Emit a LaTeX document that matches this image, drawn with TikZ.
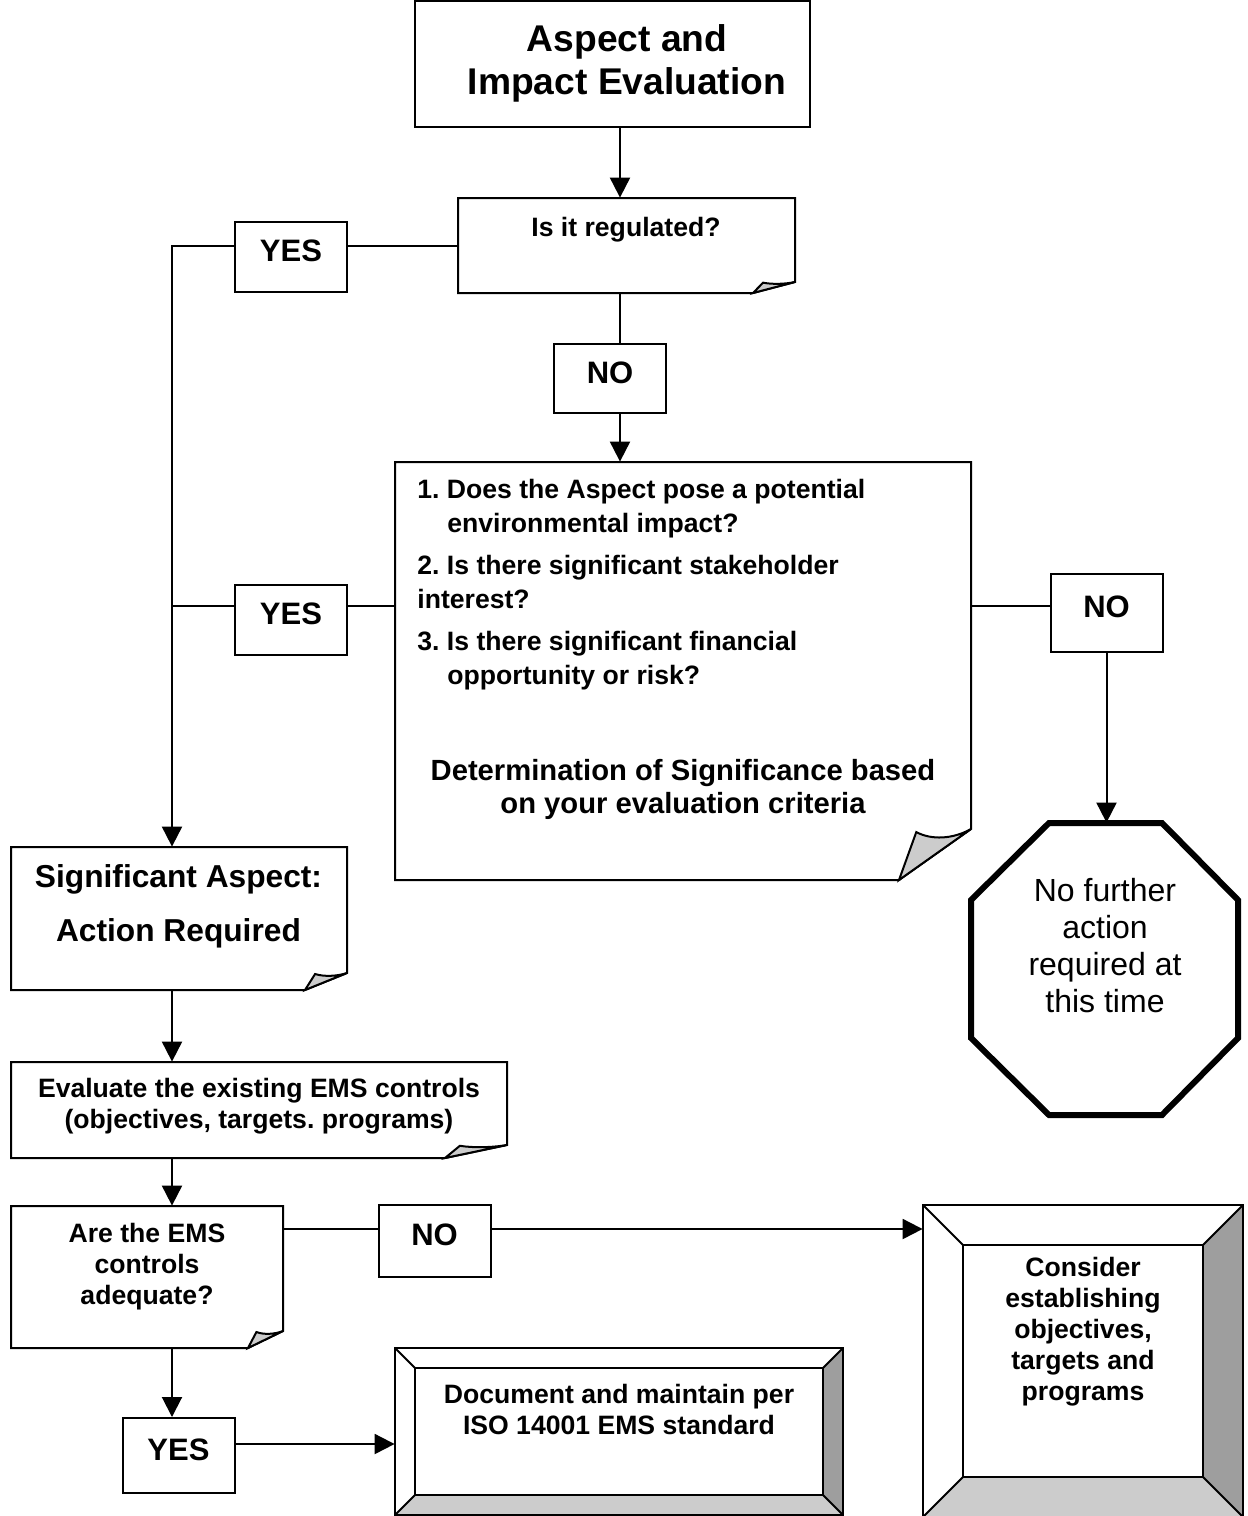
\documentclass[tikz,border=0pt]{standalone}
\usepackage{fontspec}
\setmainfont{Liberation Sans}
\usetikzlibrary{arrows.meta, calc, fit, positioning}

\definecolor{flapgray}{gray}{0.80}
\definecolor{bevellight}{gray}{0.80}
\definecolor{beveldark}{gray}{0.62}

% folded-corner page: name, x1, y1, x2, y2, fold width, fold height
\newcommand{\pagebox}[7]{%
  \draw[boxline] (#2,#3) -- (#4,#3) -- (#4,{#5-#7}) -- ({#4-#6},#5) -- (#2,#5) -- cycle;
  \filldraw[boxline, fill=flapgray] ({#4-#6},#5) -- ({#4-0.76*#6},{#5-0.94*#7})
    .. controls ({#4-0.55*#6},{#5-0.78*#7}) and ({#4-0.25*#6},{#5-0.8*#7}) .. (#4,{#5-#7}) -- cycle;
  \node[fit={(#2,#3) (#4,#5)}, inner sep=0pt] (#1) {};
}

% bevelled button: name, x1, y1, x2, y2, bevel
\newcommand{\bevelbox}[6]{%
  \fill[beveldark] (#4,#3) -- (#4,#5) -- ({#4-#6},{#5-#6}) -- ({#4-#6},{#3+#6}) -- cycle;
  \fill[bevellight] (#2,#5) -- (#4,#5) -- ({#4-#6},{#5-#6}) -- ({#2+#6},{#5-#6}) -- cycle;
  \draw[boxline] (#2,#3) rectangle (#4,#5);
  \draw[boxline] ({#2+#6},{#3+#6}) rectangle ({#4-#6},{#5-#6});
  \draw[boxline] (#2,#3) -- ({#2+#6},{#3+#6}) (#4,#3) -- ({#4-#6},{#3+#6})
    (#2,#5) -- ({#2+#6},{#5-#6}) (#4,#5) -- ({#4-#6},{#5-#6});
  \node[fit={(#2,#3) (#4,#5)}, inner sep=0pt] (#1) {};
}

\begin{document}
\frenchspacing
\begin{tikzpicture}[
    x=0.5pt, y=-0.5pt,
    every node/.style={font=\bfseries\fontsize{13.3}{15.5}\selectfont, align=center, inner sep=0pt},
    boxline/.style={line width=1pt},
    link/.style={line width=1pt},
    flow/.style={line width=1pt, -{Triangle[length=10pt, width=10pt]}},
    answer/.style={draw, line width=1pt, minimum width=56pt, minimum height=35pt, text depth=6pt,
                   font=\bfseries\fontsize{15.5}{18}\selectfont},
    stopline/.style={line width=3pt, line join=miter}
]
\useasboundingbox (0,0) rectangle (1248,1516);

\coordinate (mainx) at (620,0);
\coordinate (leftx) at (172,0);
\coordinate (critrow) at (0,606);
\coordinate (adeqrow) at (0,1229);
\coordinate (yesrow) at (0,1444);

% ===== TOP: evaluation and regulation check =====
\node[draw, line width=1pt, minimum width=197.5pt, minimum height=63pt] (title) at (612.5,64) {};
\node[font=\bfseries\fontsize{18.6}{21.5}\selectfont] (titlet) at (627,63)
    {Aspect and\\Impact Evaluation};

\pagebox{reg}{458}{198}{795}{293}{42}{11}
\node (regq) at (626,230) {Is it regulated?};

\node[answer] (yes1) at (291,257) {YES};
\node[answer, minimum height=34.5pt] (no1) at (610,378.5) {NO};

% ===== MIDDLE: significance criteria =====
\pagebox{crit}{395}{462}{971}{880}{72}{51}
\node[anchor=north west, align=left, font=\bfseries\fontsize{13.3}{17}\selectfont] (critq) at (417,479)
    {1. Does the Aspect pose a potential\\
     \hspace*{15pt}environmental impact?\\[4pt]
     2. Is there significant stakeholder\\
     interest?\\[4pt]
     3. Is there significant financial\\
     \hspace*{15pt}opportunity or risk?};
\node[font=\bfseries\fontsize{14.6}{16.5}\selectfont] (determ) at (683,789)
    {Determination of Significance based\\on your evaluation criteria};

\node[answer] (yes2) at (291,620) {YES};
\node[answer, minimum height=39pt] (no2) at (1106.5,613) {NO};

% --- stop sign ---
\draw[stopline] (1049,823) -- (1162,823) -- (1238,900) -- (1238,1038) -- (1162,1115)
    -- (1049,1115) -- (971,1038) -- (971,900) -- cycle;
\node[fit={(971,823) (1238,1115)}] (stop) {};
\node[font=\fontsize{16}{18.5}\selectfont] (stopt) at (1105,946)
    {No further\\action\\required at\\this time};

% ===== LEFT COLUMN: action path =====
\pagebox{sig}{11}{847}{347}{990}{42}{17}
\node[font=\bfseries\fontsize{15.85}{27}\selectfont] (sigt) at (178.5,906)
    {Significant Aspect:\\Action Required};

\pagebox{evalb}{11}{1062}{507}{1158}{62}{13}
\node (evalt) at (259,1106) {Evaluate the existing EMS controls\\(objectives, targets. programs)};

\pagebox{adeq}{11}{1206}{283}{1348}{35}{17}
\node (adeqt) at (147,1267) {Are the EMS\\controls\\adequate?};

\node[answer, minimum height=36pt] (no3) at (434.5,1241) {NO};
\node[answer, minimum height=37.5pt] (yes4) at (178.5,1455.5) {YES};

% ===== BOTTOM: outcomes =====
\bevelbox{docbox}{395}{1348}{843}{1515}{20}
\node (doct) at (619,1409) {Document and maintain per\\ISO 14001 EMS standard};

\bevelbox{consider}{923}{1205}{1243}{1517}{40}
\node (considert) at (1083,1332) {Consider\\establishing\\objectives,\\targets and\\programs};

% ===== CONNECTORS =====
\draw[flow] (title.south -| mainx) -- (reg.north -| mainx);
\draw[link] (reg.west) -- (yes1.east |- reg.west);
\draw[flow] (yes1.west |- reg.west) -| (sig.north -| leftx);
\draw[link] (reg.south -| mainx) -- (no1.north -| mainx);
\draw[flow] (no1.south -| mainx) -- (crit.north -| mainx);

\draw[link] (crit.west |- critrow) -- (yes2.east |- critrow);
\draw[link] (yes2.west |- critrow) -- (leftx |- critrow);
\draw[link] (crit.east |- critrow) -- (no2.west |- critrow);
\draw[flow] (no2.south) -- (no2.south |- stop.north);

\draw[flow] (sig.south -| leftx) -- (evalb.north -| leftx);
\draw[flow] (evalb.south -| leftx) -- (adeq.north -| leftx);
\draw[link] (adeq.east |- adeqrow) -- (no3.west |- adeqrow);
\draw[flow] (no3.east |- adeqrow) -- (consider.west |- adeqrow);
\draw[flow] (adeq.south -| leftx) -- (yes4.north -| leftx);
\draw[flow] (yes4.east |- yesrow) -- (docbox.west |- yesrow);

\end{tikzpicture}
\end{document}
